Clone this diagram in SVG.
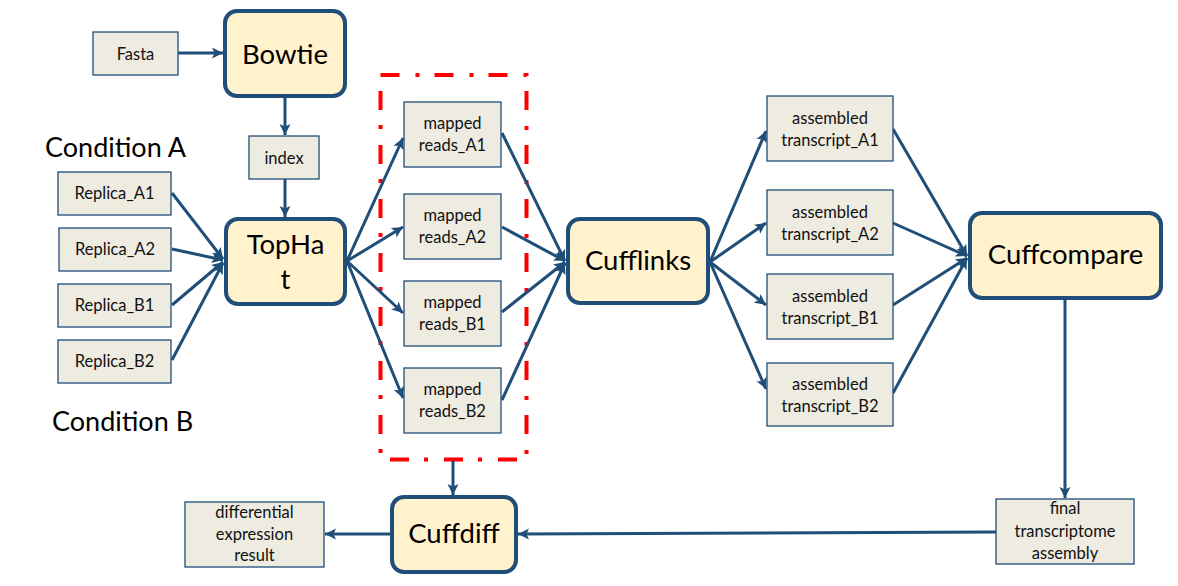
<svg xmlns="http://www.w3.org/2000/svg" width="1178" height="586" viewBox="0 0 1178 586">
<defs>
<marker id="ah" markerUnits="userSpaceOnUse" markerWidth="12" markerHeight="12" refX="11" refY="6" orient="auto">
<path d="M0,0.5 L11,6 L0,11.5 L2.5,6 z" fill="#1F4E79"/>
</marker>
<style>
.box{fill:#EEECE1;stroke:#1F4E79;stroke-width:1.3}
.tool{fill:#FFF2CC;stroke:#1F4E79;stroke-width:4}
.t{font-family:Lato,"Open Sans",sans-serif;font-size:16.5px;fill:#111;text-anchor:middle}
.big{font-family:Lato,"Open Sans",sans-serif;font-size:27.5px;fill:#000;text-anchor:middle}
.cond{font-family:Lato,"Open Sans",sans-serif;font-size:27px;fill:#000}
.c line{stroke:#1F4E79;stroke-width:3;marker-end:url(#ah)}
</style>
</defs>
<rect width="1178" height="586" fill="#fff"/>

<text class="cond" x="45" y="157">Condition A</text>
<text class="cond" x="52" y="431">Condition B</text>

<rect x="380.5" y="75" width="146" height="384.5" fill="none" stroke="#FF0000" stroke-width="4" stroke-dasharray="19 16 4 15"/>

<g class="c" id="connectors">
<line x1="178" y1="53" x2="223" y2="53"/>
<line x1="285" y1="98" x2="285" y2="135"/>
<line x1="285" y1="179" x2="285" y2="217"/>
<line x1="172" y1="193" x2="223" y2="259"/>
<line x1="172" y1="249" x2="223" y2="260"/>
<line x1="172" y1="305" x2="223" y2="262"/>
<line x1="172" y1="360" x2="223" y2="263"/>
<line x1="347" y1="261" x2="403" y2="138"/>
<line x1="347" y1="261" x2="403" y2="227"/>
<line x1="347" y1="261" x2="403" y2="313"/>
<line x1="347" y1="261" x2="403" y2="398"/>
<line x1="502" y1="133" x2="565" y2="261"/>
<line x1="502" y1="227" x2="565" y2="261"/>
<line x1="502" y1="312" x2="565" y2="262"/>
<line x1="502" y1="400" x2="565" y2="263"/>
<line x1="710" y1="262" x2="766" y2="131"/>
<line x1="710" y1="262" x2="766" y2="223"/>
<line x1="710" y1="262" x2="766" y2="305"/>
<line x1="710" y1="262" x2="766" y2="389"/>
<line x1="893" y1="129" x2="967" y2="256"/>
<line x1="893" y1="223" x2="967" y2="256"/>
<line x1="893" y1="305" x2="967" y2="258"/>
<line x1="893" y1="393" x2="967" y2="258"/>
<line x1="1065" y1="300" x2="1065" y2="498"/>
<line x1="996" y1="532" x2="518" y2="534"/>
<line x1="453" y1="461" x2="453" y2="495"/>
<line x1="390" y1="534" x2="325" y2="534"/>
</g>

<g id="fasta"><rect class="box" x="93" y="32" width="85" height="43"/><text class="t" x="135.5" y="59.5">Fasta</text></g>
<g id="bowtie"><rect class="tool" x="225" y="11" width="120" height="85" rx="12"/><text class="big" x="285" y="64">Bowtie</text></g>
<g id="index"><rect class="box" x="249" y="136" width="70" height="43"/><text class="t" x="284" y="163.5">index</text></g>
<g id="tophat"><rect class="tool" x="226" y="219" width="119" height="85" rx="12"/><text class="big" x="285.5" y="254">TopHa</text><text class="big" x="285.5" y="289">t</text></g>

<g id="replica_a1"><rect class="box" x="58" y="172" width="113" height="43"/><text class="t" x="114.5" y="199">Replica_A1</text></g>
<g id="replica_a2"><rect class="box" x="59" y="228" width="112" height="43"/><text class="t" x="115" y="255">Replica_A2</text></g>
<g id="replica_b1"><rect class="box" x="58" y="284" width="113" height="43"/><text class="t" x="114.5" y="311">Replica_B1</text></g>
<g id="replica_b2"><rect class="box" x="58" y="340" width="113" height="43"/><text class="t" x="114.5" y="367">Replica_B2</text></g>

<g id="mapped_a1"><rect class="box" x="404" y="102" width="97" height="65"/><text class="t" x="452.5" y="129">mapped</text><text class="t" x="452.5" y="151">reads_A1</text></g>
<g id="mapped_a2"><rect class="box" x="404" y="194" width="97" height="65"/><text class="t" x="452.5" y="221">mapped</text><text class="t" x="452.5" y="243">reads_A2</text></g>
<g id="mapped_b1"><rect class="box" x="404" y="281" width="97" height="65"/><text class="t" x="452.5" y="308">mapped</text><text class="t" x="452.5" y="330">reads_B1</text></g>
<g id="mapped_b2"><rect class="box" x="404" y="368" width="97" height="65"/><text class="t" x="452.5" y="395">mapped</text><text class="t" x="452.5" y="417">reads_B2</text></g>

<g id="cufflinks"><rect class="tool" x="568" y="219" width="140" height="84" rx="12"/><text class="big" x="638" y="270">Cufflinks</text></g>

<g id="assembled_a1"><rect class="box" x="767" y="96" width="126" height="65"/><text class="t" x="830" y="124">assembled</text><text class="t" x="830" y="146">transcript_A1</text></g>
<g id="assembled_a2"><rect class="box" x="767" y="190" width="126" height="65"/><text class="t" x="830" y="218">assembled</text><text class="t" x="830" y="240">transcript_A2</text></g>
<g id="assembled_b1"><rect class="box" x="767" y="274" width="126" height="65"/><text class="t" x="830" y="302">assembled</text><text class="t" x="830" y="324">transcript_B1</text></g>
<g id="assembled_b2"><rect class="box" x="767" y="363" width="126" height="63"/><text class="t" x="830" y="390">assembled</text><text class="t" x="830" y="412">transcript_B2</text></g>

<g id="cuffcompare"><rect class="tool" x="970" y="213" width="191" height="85" rx="12"/><text class="big" x="1065.5" y="264">Cuffcompare</text></g>

<g id="final"><rect class="box" x="996" y="499" width="138" height="65"/><text class="t" x="1065" y="514">final</text><text class="t" x="1065" y="537">transcriptome</text><text class="t" x="1065" y="559">assembly</text></g>

<g id="cuffdiff"><rect class="tool" x="392" y="497" width="124" height="75" rx="12"/><text class="big" x="454" y="543">Cuffdiff</text></g>

<g id="diffexpr"><rect class="box" x="185" y="502" width="139" height="65"/><text class="t" x="254.5" y="518">differential</text><text class="t" x="254.5" y="540">expression</text><text class="t" x="254.5" y="561">result</text></g>
</svg>
